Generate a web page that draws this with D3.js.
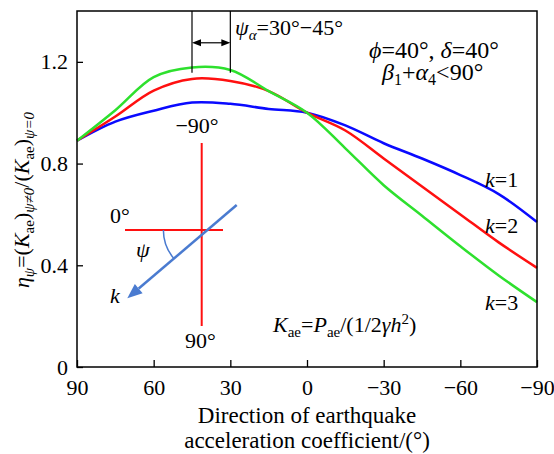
<!DOCTYPE html>
<html lang="en">
<head>
    <meta charset="UTF-8">
    <title>eta psi</title>
    <script src="https://d3js.org/d3.v7.min.js"></script>
    <style>
        body { margin: 0; background: #fff; }
        svg text { font-family: "Liberation Serif", serif; fill: #000; }
        .axis line { stroke: #000; stroke-width: 1.3; }
    </style>
</head>
<body>
<svg width="554" height="454" font-size="22"></svg>
<script>
    // values
    const angles = [90, 75, 60, 45, 30, 15, 0, -15, -30, -45, -60, -75, -90];
    const k1 = [0.89, 0.965, 1.008, 1.04, 1.035, 1.015, 1.0, 0.95, 0.88, 0.82, 0.755, 0.68, 0.57];
    const k2 = [0.89, 0.985, 1.087, 1.133, 1.125, 1.085, 1.0, 0.93, 0.82, 0.71, 0.60, 0.49, 0.39];
    const k3 = [0.89, 1.01, 1.14, 1.178, 1.168, 1.085, 1.0, 0.86, 0.715, 0.595, 0.475, 0.36, 0.255];
    const xTicks = [90, 60, 30, 0, -30, -60, -90];
    const yTicks = [0, 0.4, 0.8, 1.2];
    const series = [
        {name: "1", vals: k1, color: "#0a0aff", labelY: 187},
        {name: "2", vals: k2, color: "#ff1010", labelY: 233},
        {name: "3", vals: k3, color: "#2ee02e", labelY: 310}
    ];
    const psiRange = [45, 30];

    const pLeft = 77, pRight = 537, pTop = 11, pBottom = 367;
    const svg = d3.select("svg");
    const x = d3.scaleLinear().domain([90, -90]).range([pLeft, pRight]);
    const y = d3.scaleLinear().domain([0, 1.4]).range([pBottom, pTop]);

    // curves
    const line = d3.line().x((d, i) => x(angles[i])).y(d => y(d)).curve(d3.curveCatmullRom);
    series.forEach(s => {
        svg.append("path").attr("d", line(s.vals))
            .attr("fill", "none").attr("stroke", s.color).attr("stroke-width", 2.5);
    });

    // axes
    svg.append("g").attr("class", "axis").attr("transform", `translate(0,${pBottom})`)
        .call(d3.axisBottom(x).tickValues(xTicks).tickSizeInner(-7).tickSizeOuter(0).tickPadding(12))
        .call(g => g.select(".domain").remove());
    svg.append("g").attr("class", "axis").attr("transform", `translate(${pLeft},0)`)
        .call(d3.axisLeft(y).tickValues(yTicks).tickSizeInner(-6).tickSizeOuter(0).tickPadding(9)
            .tickFormat(d => d === 0 ? "0" : d3.format(".1f")(d)))
        .call(g => g.select(".domain").remove());
    svg.selectAll(".axis").attr("font-family", null).attr("font-size", null);

    svg.append("rect").attr("x", pLeft).attr("y", pTop)
        .attr("width", pRight - pLeft).attr("height", pBottom - pTop)
        .attr("fill", "none").attr("stroke", "#000").attr("stroke-width", 1.5);

    // x axis title
    svg.append("text").attr("x", (pLeft + pRight) / 2).attr("y", 423)
        .attr("text-anchor", "middle").attr("font-size", 23).text("Direction of earthquake");
    svg.append("text").attr("x", (pLeft + pRight) / 2).attr("y", 448)
        .attr("text-anchor", "middle").attr("font-size", 23).text("acceleration coefficient/(°)");

    // helper for rich text
    function rich(parent, parts) {
        parts.forEach(p => {
            const t = parent.append("tspan").text(p.t);
            if (p.i) t.attr("font-style", "italic");
            if (p.s) t.attr("font-size", p.s);
            if (p.dy) t.attr("dy", p.dy);
        });
        return parent;
    }

    // y axis title
    const yt = svg.append("text")
        .attr("transform", "translate(29,200) rotate(-90)").attr("text-anchor", "middle");
    rich(yt, [
        {t: "η", i: 1}, {t: "ψ", i: 1, s: 15, dy: 5}, {t: "=(", dy: -5}, {t: "K", i: 1},
        {t: "ae", s: 15, dy: 5}, {t: ")", dy: -5}, {t: "ψ≠0", i: 1, s: 15, dy: 5},
        {t: "/(", dy: -5}, {t: "K", i: 1}, {t: "ae", s: 15, dy: 5}, {t: ")", dy: -5},
        {t: "ψ=0", i: 1, s: 15, dy: 5}
    ]);

    // psi_a range marker
    const yLineEnd = y(1.157), yArrow = y(1.275);
    psiRange.forEach(a => {
        svg.append("line").attr("x1", x(a)).attr("x2", x(a)).attr("y1", pTop).attr("y2", yLineEnd)
            .attr("stroke", "#000").attr("stroke-width", 1.2);
    });
    const xa = x(psiRange[0]), xb = x(psiRange[1]);
    svg.append("line").attr("x1", xa + 6).attr("x2", xb - 6).attr("y1", yArrow).attr("y2", yArrow)
        .attr("stroke", "#000").attr("stroke-width", 1.2);
    svg.append("path").attr("d", `M${xa},${yArrow}l9,-3.5v7z M${xb},${yArrow}l-9,-3.5v7z`).attr("fill", "#000");
    const pa = svg.append("text").attr("x", 235).attr("y", 35);
    rich(pa, [{t: "ψ", i: 1}, {t: "α", i: 1, s: 15, dy: 5}, {t: "=30°−45°", dy: -5}]);

    // parameters
    const p1 = svg.append("text").attr("x", 369).attr("y", 58).attr("font-size", 24);
    rich(p1, [{t: "ϕ", i: 1}, {t: "=40°, "}, {t: "δ", i: 1}, {t: "=40°"}]);
    const p2 = svg.append("text").attr("x", 382).attr("y", 80).attr("font-size", 24);
    rich(p2, [{t: "β", i: 1}, {t: "1", s: 16, dy: 5}, {t: "+", dy: -5}, {t: "α", i: 1},
        {t: "4", s: 16, dy: 5}, {t: "<90°", dy: -5}]);

    // k labels
    series.forEach(s => {
        const t = svg.append("text").attr("x", 485).attr("y", s.labelY);
        rich(t, [{t: "k", i: 1}, {t: "=" + s.name}]);
    });

    // K_ae definition
    const kd = svg.append("text").attr("x", 273).attr("y", 332);
    rich(kd, [{t: "K", i: 1}, {t: "ae", s: 15, dy: 5}, {t: "=", dy: -5}, {t: "P", i: 1},
        {t: "ae", s: 15, dy: 5}, {t: "/(1/2", dy: -5}, {t: "γh", i: 1}, {t: "2", s: 15, dy: -8},
        {t: ")", dy: 8}]);

    // inset sketch of the direction angle
    const cx = 201.7, cy = 230;
    svg.append("line").attr("x1", cx).attr("x2", cx).attr("y1", 143).attr("y2", 326)
        .attr("stroke", "#ff1010").attr("stroke-width", 2);
    svg.append("line").attr("x1", 125).attr("x2", 223).attr("y1", cy).attr("y2", cy)
        .attr("stroke", "#ff1010").attr("stroke-width", 2);
    const ax0 = 236.7, ay0 = 205, ax1 = 127.3, ay1 = 298.3;
    const ang = Math.atan2(ay1 - ay0, ax1 - ax0);
    const headLen = 15, headW = 6;
    const bx = ax1 - headLen * Math.cos(ang), by = ay1 - headLen * Math.sin(ang);
    svg.append("line").attr("x1", ax0).attr("y1", ay0).attr("x2", bx).attr("y2", by)
        .attr("stroke", "#4a7bd0").attr("stroke-width", 2.5);
    svg.append("path").attr("fill", "#4a7bd0")
        .attr("d", `M${ax1},${ay1}L${bx + headW * Math.sin(ang)},${by - headW * Math.cos(ang)}` +
            `L${bx - headW * Math.sin(ang)},${by + headW * Math.cos(ang)}Z`);
    const ix = ax0 + (cy - ay0) / Math.tan(ang);
    const arc = d3.path();
    arc.arc(ix, cy, 44, ang, Math.PI, false);
    svg.append("path").attr("d", arc.toString()).attr("fill", "none")
        .attr("stroke", "#4a7bd0").attr("stroke-width", 1.5);

    svg.append("text").attr("x", 197).attr("y", 133)
        .attr("text-anchor", "middle").text("−90°");
    svg.append("text").attr("x", 110).attr("y", 223).text("0°");
    svg.append("text").attr("x", 200.5).attr("y", 348)
        .attr("text-anchor", "middle").text("90°");
    svg.append("text").attr("x", 136).attr("y", 257)
        .attr("font-style", "italic").text("ψ");
    svg.append("text").attr("x", 110).attr("y", 303)
        .attr("font-style", "italic").text("k");
</script>
</body>
</html>
